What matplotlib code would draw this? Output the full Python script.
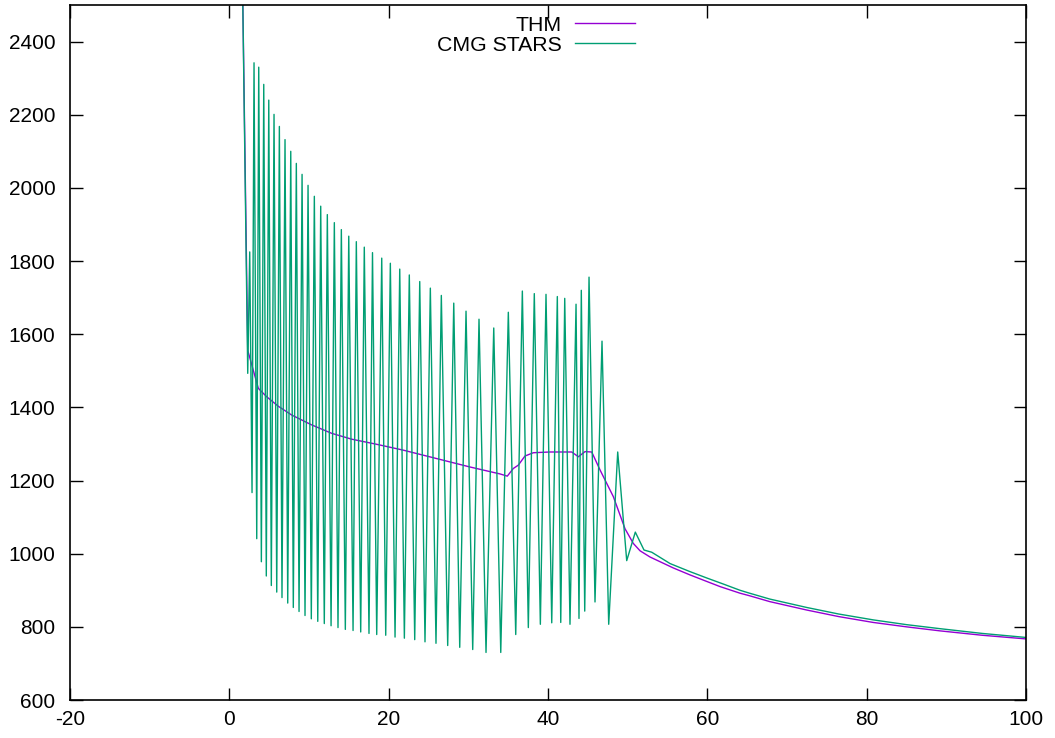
import matplotlib
matplotlib.use("Agg")
import matplotlib.pyplot as plt

plt.rcParams['font.family'] = ['Liberation Sans', 'DejaVu Sans']
plt.rcParams['axes.unicode_minus'] = False

# THM series
thm_x = [1.60, 2.31, 3.64, 4.69, 6.15, 7.83, 10.34, 12.85, 15.36, 18.29, 21.84,
         26.03, 30.21, 33.98, 34.89, 35.65, 36.27, 37.11, 38.16, 40.25, 42.98,
         43.81, 44.65, 45.49, 46.53, 48.20, 49.67, 50.71, 51.55, 52.80, 55.73,
         57.82, 59.82, 61.60, 64.10, 65.30, 67.83, 72.47, 76.50, 80.83, 85.00,
         89.20, 94.50, 100.0]
thm_y = [2650, 1556, 1452, 1429, 1403, 1379, 1352, 1329, 1313, 1300, 1283,
         1260, 1237, 1218, 1212, 1233, 1242, 1267, 1276, 1278, 1278,
         1265, 1279, 1278, 1229, 1156, 1068, 1028, 1008, 991, 961,
         942, 925, 910, 892, 885, 869, 846, 828, 812, 800,
         789, 777, 767]

# CMG STARS series
cmg_x = [1.60, 2.31, 2.56, 2.85, 3.10, 3.44, 3.69, 4.02, 4.32, 4.64, 4.95,
         5.27, 5.61, 5.95, 6.28, 6.61, 6.99, 7.33, 7.71, 8.03, 8.41,
         8.75, 9.13, 9.50, 9.88, 10.29, 10.67, 11.10, 11.47, 11.92, 12.30,
         12.77, 13.18, 13.64, 14.06, 14.56, 14.99, 15.53, 15.94, 16.49, 16.94,
         17.53, 17.97, 18.50, 19.13, 19.63, 20.21, 20.80, 21.39, 21.97, 22.59,
         23.27, 23.90, 24.56, 25.23, 25.94, 26.61, 27.41, 28.17, 28.92, 29.71,
         30.55, 31.34, 32.22, 33.19, 34.07, 35.02, 35.95, 36.78, 37.53, 38.28,
         39.04, 39.75, 40.47, 41.17, 41.60, 42.10, 42.76, 43.52, 43.89, 44.18,
         44.61, 45.15, 45.90, 46.78, 47.62, 48.75, 49.88, 50.96, 52.05, 53.02,
         55.32, 57.82, 60.00, 62.01, 64.10, 65.30, 67.83, 72.47, 76.50, 80.83,
         85.00, 89.20, 94.50, 100.0]
cmg_y = [2650, 1493, 1825, 1167, 2342, 1041, 2330, 978, 2283, 939, 2240,
         913, 2201, 895, 2168, 880, 2132, 865, 2100, 853, 2067,
         842, 2037, 831, 2007, 822, 1977, 815, 1950, 809, 1927,
         803, 1905, 798, 1886, 793, 1868, 790, 1853, 786, 1838,
         782, 1823, 779, 1808, 777, 1794, 772, 1778, 769, 1762,
         765, 1744, 759, 1726, 755, 1706, 749, 1685, 744, 1663,
         738, 1641, 730, 1617, 730, 1660, 779, 1718, 798, 1711,
         807, 1709, 811, 1703, 812, 1698, 807, 1682, 823, 1720,
         843, 1756, 868, 1581, 807, 1278, 981, 1059, 1010, 1004,
         973, 951, 933, 917, 900, 892, 876, 853, 835, 819,
         806, 795, 782, 771]

x_ticks = [-20, 0, 20, 40, 60, 80, 100]
y_ticks = [600, 800, 1000, 1200, 1400, 1600, 1800, 2000, 2200, 2400]

fig = plt.figure(figsize=(10.55, 7.38), dpi=100)
ax = fig.add_axes([70/1055, 1 - 700/738, (1026 - 70)/1055, (700 - 5)/738])

ax.plot(thm_x, thm_y, color='#9400d3', lw=1.0, label='THM')
ax.plot(cmg_x, cmg_y, color='#009e73', lw=1.0, label='CMG STARS')

ax.set_xlim(-20, 100)
ax.set_ylim(600, 2500)
ax.set_xticks(x_ticks)
ax.set_yticks(y_ticks)
ax.tick_params(direction='in', length=9, width=1, top=True, right=True,
               labelsize=15, colors='black')
ax.tick_params(axis='x', pad=7.5)
ax.tick_params(axis='y', pad=10.5)
for s in ax.spines.values():
    s.set_linewidth(1.2)

leg = ax.legend(loc='upper right', bbox_to_anchor=(0.607, 1.006), frameon=False,
                markerfirst=False, fontsize=15.3, handlelength=2.85,
                handletextpad=0.6, labelspacing=0.05, borderaxespad=0.3)
for t in leg.get_texts():
    t.set_ha('right')

fig.savefig('out.png', dpi=100)
